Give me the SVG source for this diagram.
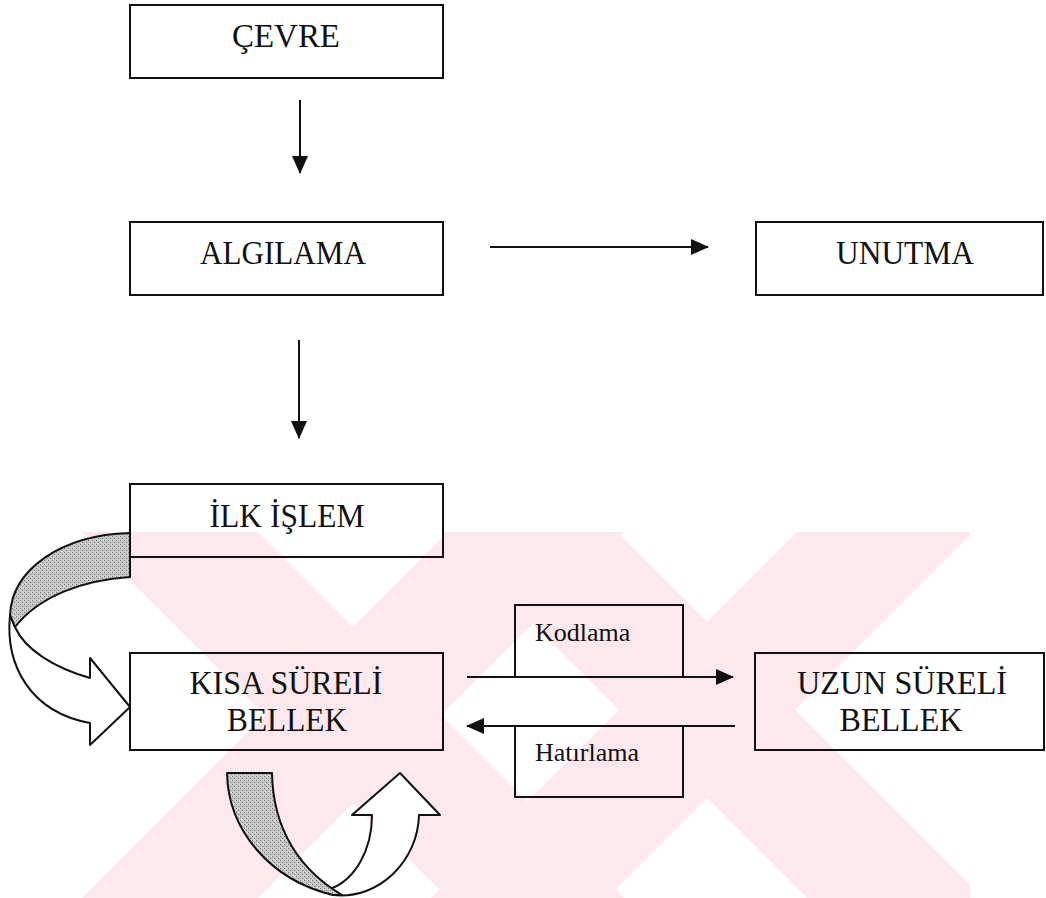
<svg xmlns="http://www.w3.org/2000/svg" width="1046" height="898" viewBox="0 0 1046 898">
  <style>
    .box { fill: none; stroke: #111; stroke-width: 2; }
    .lbl { font-family: "Liberation Serif", "Times New Roman", serif; font-size: 33px; fill: #111; text-anchor: middle; }
    .small { font-family: "Liberation Serif", "Times New Roman", serif; font-size: 26px; fill: #111; }
    .conn { fill: none; stroke: #111; stroke-width: 2; }
    .ribbon { stroke: #111; stroke-width: 2; stroke-linejoin: round; }
    .wm { fill: #fde8ed; }
  </style>
  <defs>
    <marker id="ah" markerUnits="userSpaceOnUse" markerWidth="18" markerHeight="18" viewBox="0 0 18 18" refX="17" refY="9" orient="auto">
      <path d="M0,1 L18,9 L0,17 Z" fill="#111"/>
    </marker>
    <pattern id="stip" patternUnits="userSpaceOnUse" width="4" height="4">
      <rect width="4" height="4" fill="#c4c4c4"/>
      <rect x="0" y="0" width="1" height="1" fill="#777"/>
      <rect x="2" y="2" width="1" height="1" fill="#888"/>
      <rect x="3" y="0" width="1" height="1" fill="#e6e6e6"/>
      <rect x="1" y="3" width="1" height="1" fill="#e0e0e0"/>
    </pattern>
    <clipPath id="wmclip">
      <rect x="25" y="532" width="945" height="366"/>
    </clipPath>
  </defs>

  <rect width="1046" height="898" fill="#ffffff"/>

  <g id="watermark" clip-path="url(#wmclip)">
    <polygon class="wm" points="-135,315 41,315 841,1115 665,1115"/>
    <polygon class="wm" points="665,315 841,315 41,1115 -135,1115"/>
    <polygon class="wm" points="219,310 395,310 1195,1110 1019,1110"/>
    <polygon class="wm" points="1019,310 1195,310 395,1110 219,1110"/>
  </g>

  <g id="connectors">
    <line class="conn" x1="300" y1="100" x2="300" y2="173" marker-end="url(#ah)"/>
    <line class="conn" x1="490" y1="247" x2="708" y2="247" marker-end="url(#ah)"/>
    <line class="conn" x1="299" y1="340" x2="299" y2="438" marker-end="url(#ah)"/>
    <line class="conn" x1="467" y1="677" x2="733" y2="677" marker-end="url(#ah)"/>
    <line class="conn" x1="735" y1="726" x2="467" y2="726" marker-end="url(#ah)"/>
    <g id="curve-ilk-to-kisa">
      <path class="ribbon" fill="#ffffff" d="M10,615 C5,665 30,712 90,723 L90,745 L130,707 L90,658 L90,678 C55,668 25,650 15,627 Z"/>
      <path class="ribbon" fill="url(#stip)" d="M130,533 C60,535 12,570 10,615 L15,627 C40,595 85,580 130,577 Z"/>
    </g>
    <g id="curve-kisa-loop">
      <path class="ribbon" fill="#ffffff" d="M333,895 C380,900 418,860 419,815 L440,815 L400,773 L352,815 L372,815 C372,850 355,880 330,889 Z"/>
      <path class="ribbon" fill="url(#stip)" d="M227,773 L272,773 C273,830 300,870 342,895 L333,895 C270,880 228,830 227,773 Z"/>
    </g>
  </g>

  <g id="node-cevre">
    <rect class="box" x="130" y="5" width="313" height="73"/>
    <text class="lbl" x="286" y="47" textLength="108" lengthAdjust="spacingAndGlyphs">ÇEVRE</text>
  </g>
  <g id="node-algilama">
    <rect class="box" x="130" y="222" width="313" height="73"/>
    <text class="lbl" x="283" y="264" textLength="166" lengthAdjust="spacingAndGlyphs">ALGILAMA</text>
  </g>
  <g id="node-unutma">
    <rect class="box" x="756" y="222" width="287" height="73"/>
    <text class="lbl" x="905" y="264" textLength="138" lengthAdjust="spacingAndGlyphs">UNUTMA</text>
  </g>
  <g id="node-ilk-islem">
    <rect class="box" x="130" y="484" width="313" height="73"/>
    <text class="lbl" x="287" y="527" textLength="155" lengthAdjust="spacingAndGlyphs">İLK İŞLEM</text>
  </g>
  <g id="node-kisa">
    <rect class="box" x="130" y="653" width="313" height="97"/>
    <text class="lbl" x="286" y="694" textLength="193" lengthAdjust="spacingAndGlyphs">KISA SÜRELİ</text>
    <text class="lbl" x="287" y="731" textLength="120" lengthAdjust="spacingAndGlyphs">BELLEK</text>
  </g>
  <g id="node-uzun">
    <rect class="box" x="755" y="653" width="289" height="97"/>
    <text class="lbl" x="902" y="694" textLength="210" lengthAdjust="spacingAndGlyphs">UZUN SÜRELİ</text>
    <text class="lbl" x="901" y="731" textLength="123" lengthAdjust="spacingAndGlyphs">BELLEK</text>
  </g>
  <g id="node-kodlama">
    <path class="box" d="M515,677 V605 H683 V677"/>
    <text class="small" x="535" y="641">Kodlama</text>
  </g>
  <g id="node-hatirlama">
    <path class="box" d="M515,726 V797 H683 V726"/>
    <text class="small" x="535" y="761">Hatırlama</text>
  </g>
</svg>
